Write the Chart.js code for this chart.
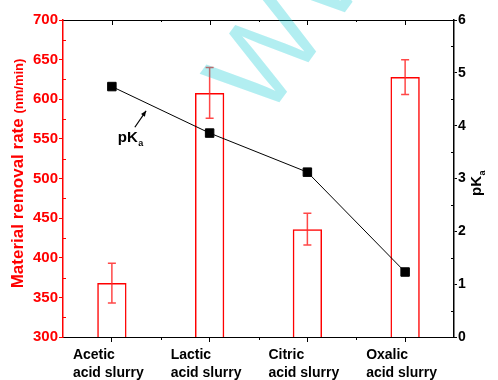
<!DOCTYPE html>
<html>
<head>
<meta charset="utf-8">
<script src="https://cdn.jsdelivr.net/npm/chart.js@4.4.0/dist/chart.umd.min.js"></script>
<style>
  html, body { margin: 0; padding: 0; background: #fff; }
</style>
</head>
<body>
<canvas id="chart" width="498" height="380"></canvas>
<script>
// values
const slurries = [['Acetic', 'acid slurry'], ['Lactic', 'acid slurry'], ['Citric', 'acid slurry'], ['Oxalic', 'acid slurry']];
const removalRate = [368, 608, 436, 628];
const removalErr = [25, 32, 20, 22];
const pKaValues = [4.74, 3.86, 3.12, 1.23];
const rateRange = [300, 700];
const pKaRange = [0, 6];

const RED = '#ff0000';
const FONT = 'Liberation Sans, Arial, sans-serif';

function drawSubText(ctx, main, sub, mainSize, subSize, x, y, align) {
  ctx.font = 'bold ' + mainSize + 'px ' + FONT;
  const w1 = ctx.measureText(main).width;
  ctx.font = 'bold ' + subSize + 'px ' + FONT;
  const w2 = ctx.measureText(sub).width;
  let start = x;
  if (align === 'center') start = x - (w1 + w2) / 2;
  ctx.textAlign = 'left';
  ctx.textBaseline = 'alphabetic';
  ctx.font = 'bold ' + mainSize + 'px ' + FONT;
  ctx.fillText(main, start, y);
  ctx.font = 'bold ' + subSize + 'px ' + FONT;
  ctx.fillText(sub, start + w1 + 0.5, y + subSize * 0.45);
}

const extrasPlugin = {
  id: 'extras',
  afterDatasetsDraw(chart) {
    const ctx = chart.ctx;
    const x = chart.scales.x;
    const y = chart.scales.y;
    // error bars
    ctx.save();
    ctx.strokeStyle = 'rgba(255,40,40,0.85)';
    ctx.lineWidth = 1.5;
    removalRate.forEach(function (v, i) {
      const px = x.getPixelForValue(i);
      const top = y.getPixelForValue(v + removalErr[i]);
      const bot = y.getPixelForValue(v - removalErr[i]);
      ctx.beginPath();
      ctx.moveTo(px, top); ctx.lineTo(px, bot);
      ctx.moveTo(px - 4, top); ctx.lineTo(px + 4, top);
      ctx.moveTo(px - 4, bot); ctx.lineTo(px + 4, bot);
      ctx.stroke();
    });
    ctx.restore();
  },
  afterDraw(chart) {
    const ctx = chart.ctx;
    const area = chart.chartArea;
    const x = chart.scales.x;
    const y = chart.scales.y;
    const y2 = chart.scales.y2;
    ctx.save();

    // minor ticks, left axis (inward)
    ctx.lineWidth = 1;
    ctx.strokeStyle = RED;
    ctx.beginPath();
    for (let v = rateRange[0] + 25; v < rateRange[1]; v += 50) {
      const py = Math.round(y.getPixelForValue(v)) + 0.5;
      ctx.moveTo(area.left, py); ctx.lineTo(area.left + 3, py);
    }
    ctx.stroke();

    // minor ticks, right axis (inward)
    ctx.strokeStyle = '#000';
    ctx.beginPath();
    for (let v = pKaRange[0] + 0.5; v < pKaRange[1]; v += 1) {
      const py = Math.round(y2.getPixelForValue(v)) + 0.5;
      ctx.moveTo(area.right, py); ctx.lineTo(area.right - 3, py);
    }
    // top axis: major ticks inward at categories
    for (let i = 0; i < slurries.length; i++) {
      const px = Math.round(x.getPixelForValue(i)) + 0.5;
      ctx.moveTo(px, area.top); ctx.lineTo(px, area.top + 5);
    }
    // minor ticks between categories
    for (let i = 0; i < slurries.length - 1; i++) {
      const px = Math.round((x.getPixelForValue(i) + x.getPixelForValue(i + 1)) / 2) + 0.5;
      ctx.moveTo(px, area.bottom); ctx.lineTo(px, area.bottom + 3);
      ctx.moveTo(px, area.top); ctx.lineTo(px, area.top + 2);
    }
    ctx.stroke();

    // left axis title, mixed sizes
    ctx.fillStyle = RED;
    ctx.translate(23, (area.top + area.bottom) / 2 - 5);
    ctx.rotate(-Math.PI / 2);
    ctx.font = 'bold 17px ' + FONT;
    const t1 = 'Material removal rate ';
    const w1 = ctx.measureText(t1).width;
    ctx.font = 'bold 13px ' + FONT;
    const t2 = '(nm/min)';
    const w2 = ctx.measureText(t2).width;
    ctx.textBaseline = 'alphabetic';
    ctx.textAlign = 'left';
    ctx.font = 'bold 17px ' + FONT;
    ctx.fillText(t1, -(w1 + w2) / 2, 0);
    ctx.font = 'bold 13px ' + FONT;
    ctx.fillText(t2, -(w1 + w2) / 2 + w1, 0);
    ctx.setTransform(1, 0, 0, 1, 0, 0);

    // right axis title pKa
    ctx.fillStyle = '#000';
    ctx.translate(481, (area.top + area.bottom) / 2 + 5);
    ctx.rotate(-Math.PI / 2);
    drawSubText(ctx, 'pK', 'a', 15, 9, 0, 0, 'center');
    ctx.setTransform(1, 0, 0, 1, 0, 0);

    // pKa label with arrow pointing at the line
    const tipX = x.getPixelForValue(0.35), tipY = y2.getPixelForValue(4.28);
    const tailX = x.getPixelForValue(0.235), tailY = y2.getPixelForValue(3.97);
    ctx.strokeStyle = '#000';
    ctx.lineWidth = 1.2;
    ctx.beginPath();
    ctx.moveTo(tailX, tailY); ctx.lineTo(tipX, tipY);
    ctx.stroke();
    const ang = Math.atan2(tipY - tailY, tipX - tailX);
    ctx.beginPath();
    ctx.moveTo(tipX, tipY);
    ctx.lineTo(tipX - 6 * Math.cos(ang - 0.4), tipY - 6 * Math.sin(ang - 0.4));
    ctx.lineTo(tipX - 6 * Math.cos(ang + 0.4), tipY - 6 * Math.sin(ang + 0.4));
    ctx.closePath();
    ctx.fill();
    drawSubText(ctx, 'pK', 'a', 15, 9, x.getPixelForValue(0.06), y2.getPixelForValue(3.7), 'left');

    // faint watermark
    ctx.fillStyle = 'rgba(0,200,210,0.3)';
    ctx.translate(265, 122);
    ctx.rotate(-54 * Math.PI / 180);
    ctx.font = '118px ' + FONT;
    ctx.textAlign = 'left';
    ctx.textBaseline = 'alphabetic';
    ctx.fillText('WW', 0, 0);
    ctx.restore();
  }
};

new Chart(document.getElementById('chart').getContext('2d'), {
  data: {
    labels: slurries,
    datasets: [
      {
        type: 'line',
        label: 'pKa',
        data: pKaValues,
        yAxisID: 'y2',
        order: 0,
        borderColor: '#000',
        borderWidth: 1,
        tension: 0,
        pointStyle: 'rect',
        pointRadius: 6,
        pointBorderWidth: 1,
        pointBackgroundColor: '#000',
        pointBorderColor: '#000'
      },
      {
        type: 'bar',
        label: 'Material removal rate',
        data: removalRate,
        yAxisID: 'y',
        order: 1,
        backgroundColor: 'rgba(255,255,255,0)',
        borderColor: RED,
        borderWidth: 1.5,
        barPercentage: 0.3,
        categoryPercentage: 1
      }
    ]
  },
  plugins: [extrasPlugin],
  options: {
    responsive: false,
    animation: false,
    layout: { padding: 0 },
    plugins: { legend: { display: false }, tooltip: { enabled: false } },
    scales: {
      x: {
        type: 'category',
        position: 'bottom',
        offset: true,
        afterFit: function (s) { s.height = 43; },
        grid: { drawOnChartArea: false, offset: false, tickLength: 5, color: '#000' },
        border: { color: '#000', width: 1 },
        ticks: {
          color: '#000',
          font: { family: FONT, size: 14, weight: 'bold', lineHeight: 1.3 },
          align: 'start',
          labelOffset: -39,
          padding: 4,
          autoSkip: false,
          maxRotation: 0
        }
      },
      x2: {
        type: 'category',
        position: 'top',
        labels: slurries,
        offset: true,
        afterFit: function (s) { s.height = 20; },
        grid: { display: false },
        border: { color: '#000', width: 1 },
        ticks: { display: false }
      },
      y: {
        type: 'linear',
        position: 'left',
        min: rateRange[0],
        max: rateRange[1],
        afterFit: function (s) { s.width = 63; },
        grid: { drawOnChartArea: false, tickLength: 4, color: RED },
        border: { color: RED, width: 1.5 },
        ticks: {
          stepSize: 50,
          color: RED,
          padding: 1,
          font: { family: FONT, size: 15, weight: 'bold' }
        }
      },
      y2: {
        type: 'linear',
        position: 'right',
        min: pKaRange[0],
        max: pKaRange[1],
        afterFit: function (s) { s.width = 44; },
        grid: { drawOnChartArea: false, tickLength: 3, color: '#000' },
        border: { color: '#000', width: 1.5 },
        ticks: {
          stepSize: 1,
          color: '#000',
          padding: 1,
          font: { family: FONT, size: 14, weight: 'bold' }
        }
      }
    }
  }
});
</script>
</body>
</html>
